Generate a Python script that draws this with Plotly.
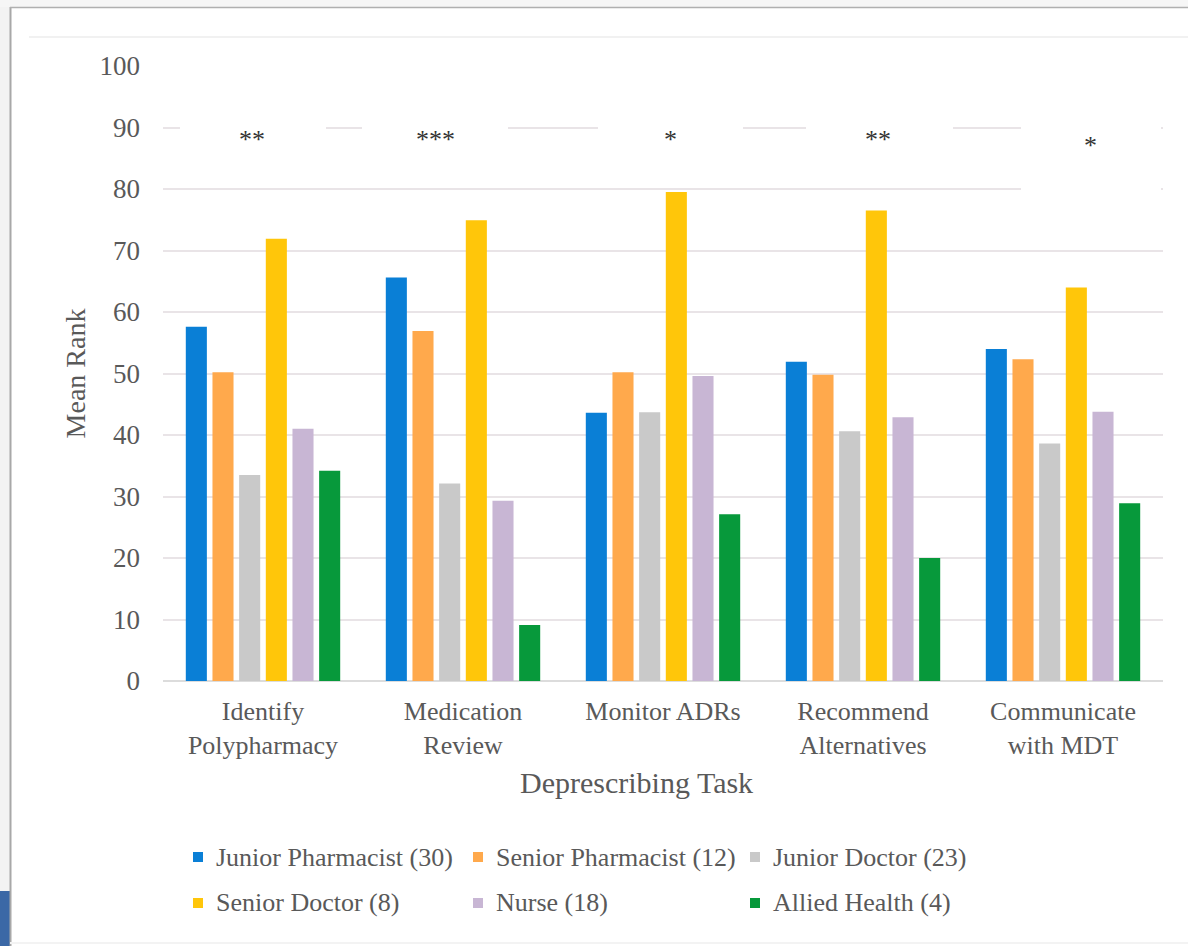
import plotly.graph_objects as go

# Deprescribing tasks (x categories)
tasks = ["Identify<br>Polypharmacy", "Medication<br>Review", "Monitor ADRs",
         "Recommend<br>Alternatives", "Communicate<br>with MDT"]

# Mean rank per professional group
junior_pharmacist = [57.6, 65.6, 43.6, 51.9, 54.0]
senior_pharmacist = [50.2, 56.9, 50.2, 49.8, 52.3]
junior_doctor = [33.5, 32.1, 43.7, 40.6, 38.6]
senior_doctor = [71.9, 74.9, 79.5, 76.5, 64.0]
nurse = [41.0, 29.3, 49.6, 42.9, 43.8]
allied_health = [34.2, 9.1, 27.1, 20.0, 28.9]

group_names = ["Junior Pharmacist (30)", "Senior Pharmacist (12)", "Junior Doctor (23)",
               "Senior Doctor (8)", "Nurse (18)", "Allied Health (4)"]
group_values = [junior_pharmacist, senior_pharmacist, junior_doctor,
                senior_doctor, nurse, allied_health]
group_colors = ["#0a7fd6", "#ffa94c", "#c9c9c9", "#ffc60a", "#c8b6d4", "#07993b"]

# Significance markers per task
significance = ["**", "***", "*", "**", "*"]

FONT = "Liberation Serif"
TXT = "#595959"

fig = go.Figure()
for name, vals, col in zip(group_names, group_values, group_colors):
    fig.add_trace(go.Bar(x=tasks, y=vals, name=name, marker_color=col,
                         marker_line_width=0, showlegend=False))

# Plot-area geometry in pixels (for paper-coordinate conversion of decorations)
L, R, T, B = 163, 1163, 66, 681
def px_x(p):
    return (p - L) / (R - L)
def px_y(p):
    return (B - p) / (B - T)

shapes = []
# page frame: light strip at left edge, blue tab, grey border lines
shapes.append(dict(type="rect", xref="paper", yref="paper", x0=px_x(0), x1=px_x(10),
                   y0=px_y(946), y1=px_y(0), fillcolor="#f3f3f3", line_width=0, layer="below"))
shapes.append(dict(type="rect", xref="paper", yref="paper", x0=px_x(0), x1=px_x(10),
                   y0=px_y(946), y1=px_y(891), fillcolor="#3b68a6", line_width=0, layer="below"))
shapes.append(dict(type="rect", xref="paper", yref="paper", x0=px_x(0), x1=px_x(1188),
                   y0=px_y(7), y1=px_y(0), fillcolor="#f6f6f6", line_width=0, layer="below"))
shapes.append(dict(type="line", xref="paper", yref="paper", x0=px_x(10.5), x1=px_x(10.5),
                   y0=px_y(946), y1=px_y(7), line=dict(color="#a8a8a8", width=2)))
shapes.append(dict(type="line", xref="paper", yref="paper", x0=px_x(10), x1=px_x(1188),
                   y0=px_y(7.5), y1=px_y(7.5), line=dict(color="#b0b0b0", width=1.5)))
shapes.append(dict(type="line", xref="paper", yref="paper", x0=px_x(29), x1=px_x(1188),
                   y0=px_y(37), y1=px_y(37), line=dict(color="#ececec", width=1.5)))
shapes.append(dict(type="line", xref="paper", yref="paper", x0=px_x(10), x1=px_x(1188),
                   y0=px_y(943), y1=px_y(943), line=dict(color="#f3f3f3", width=2)))

# white text boxes behind the significance markers (they hide the gridlines)
boxes = [(180, 326, 87, 93), (362, 508, 87, 93), (598, 743, 87, 93),
         (806, 953, 87, 93), (1021, 1161, 77, 95)]
for x0, x1, y0, y1 in boxes:
    shapes.append(dict(type="rect", xref="paper", yref="y", x0=px_x(x0), x1=px_x(x1),
                       y0=y0, y1=y1, fillcolor="white", line_width=0, layer="above"))

annotations = []
sig_pos = [(252, 88.0), (435, 88.0), (670, 88.0), (878, 88.0), (1090, 87.0)]
for s, (xp, yv) in zip(significance, sig_pos):
    annotations.append(dict(text=s, xref="paper", yref="y", x=px_x(xp), y=yv,
                            showarrow=False, font=dict(family=FONT, size=26, color="#333333"),
                            xanchor="center", yanchor="middle"))
annotations.append(dict(text="Deprescribing Task", xref="paper", yref="paper",
                        x=px_x(636), y=px_y(782), showarrow=False,
                        font=dict(family=FONT, size=30, color=TXT),
                        xanchor="center", yanchor="middle"))

# legend: two rows of three keys (colour square + label)
key_cols = [198, 478, 755]
key_rows = [857, 903]
for i, (name, col) in enumerate(zip(group_names, group_colors)):
    cx = key_cols[i % 3]
    cy = key_rows[i // 3]
    shapes.append(dict(type="rect", xref="paper", yref="paper",
                       x0=px_x(cx - 5), x1=px_x(cx + 5), y0=px_y(cy + 5), y1=px_y(cy - 5),
                       fillcolor=col, line_width=0))
    annotations.append(dict(text=name, xref="paper", yref="paper",
                            x=px_x(cx + 16), y=px_y(cy), showarrow=False,
                            xanchor="left", yanchor="middle",
                            font=dict(family=FONT, size=26, color=TXT)))

fig.update_layout(
    width=1188, height=946,
    margin=dict(l=L, r=1188 - R, t=T, b=946 - B, pad=0),
    paper_bgcolor="white", plot_bgcolor="white",
    barmode="group", bargap=0.2, bargroupgap=0.21,
    font=dict(family=FONT, size=26, color=TXT),
    shapes=shapes, annotations=annotations,
    xaxis=dict(showgrid=False, showline=False, ticks="", ticklabelstandoff=12,
               tickfont=dict(family=FONT, size=26, color=TXT)),
    yaxis=dict(range=[0, 100], dtick=10, showgrid=True, gridcolor="#e9e4e7", gridwidth=1.5,
               zeroline=True, zerolinecolor="#dcdcdc", zerolinewidth=1.5,
               showline=False, ticks="", ticklabelstandoff=22,
               tickfont=dict(family=FONT, size=27, color=TXT),
               title=dict(text="Mean Rank", standoff=5,
                          font=dict(family=FONT, size=28, color=TXT))),
)

fig.write_html("out.html")
